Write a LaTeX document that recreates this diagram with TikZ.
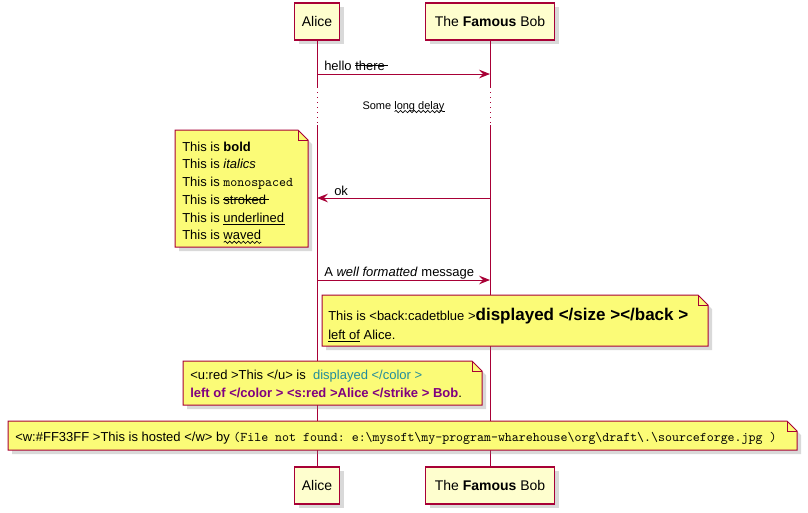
\documentclass[tikz,border=0pt]{standalone}
\usepackage{fontspec}
\setmainfont{Liberation Sans}
\setmonofont{Latin Modern Mono}[Scale=1.02]
\usepackage{tikz}
\usetikzlibrary{positioning,arrows.meta,shadows,decorations.pathmorphing}

\definecolor{umlred}{HTML}{A80036}
\definecolor{partfill}{HTML}{FEFECE}
\definecolor{notefill}{HTML}{FBFB77}
\definecolor{tealtext}{RGB}{35,140,155}
\definecolor{purpletext}{HTML}{800080}

% text marks: stroke, underline, wave
\newsavebox{\markbox}
\newlength{\marklen}
\newcommand{\strk}[1]{\sbox{\markbox}{#1}\rlap{\rule[0.32em]{\wd\markbox}{0.5pt}}\usebox{\markbox}}
\newcommand{\undl}[1]{\sbox{\markbox}{#1}\rlap{\rule[-0.2em]{\wd\markbox}{0.5pt}}\usebox{\markbox}}
\newcommand{\wavy}[1]{\sbox{\markbox}{#1}\setlength{\marklen}{\wd\markbox}%
  \rlap{\tikz[baseline=0pt]\draw[line width=0.5pt, decorate,
    decoration={snake, amplitude=0.85pt, segment length=3.4pt}] (0pt,-1.9pt) -- (\marklen,-1.9pt);}%
  \usebox{\markbox}}

\tikzset{
  part/.style={draw=umlred, fill=partfill, line width=1.1pt, inner sep=0pt,
    minimum height=27.75pt, font=\fontsize{10.5}{12}\selectfont,
    drop shadow={shadow xshift=3pt, shadow yshift=-3pt, opacity=.3}},
  life/.style={draw=umlred, line width=0.75pt},
  delay/.style={life, dash pattern=on 0.75pt off 3pt},
  msg/.style={draw=umlred, line width=0.75pt,
    -{Stealth[length=8.25pt,width=6.5pt,inset=3pt]}},
  msgtext/.style={inner sep=0pt, anchor=base west, font=\fontsize{9.75}{12}\selectfont},
  note/.style={draw=umlred, fill=notefill, line width=0.75pt,
    drop shadow={shadow xshift=3pt, shadow yshift=-3pt, opacity=.3}},
  notefold/.style={draw=umlred, line width=0.75pt},
  notetext/.style={msgtext}
}

% note with folded corner: x1 y1 x2 y2
\newcommand{\umlnote}[4]{%
  \filldraw[note] (#1,#2) -- (#3-10,#2) -- (#3,#2+10) -- (#3,#4) -- (#1,#4) -- cycle;
  \draw[notefold] (#3-10,#2) -- (#3-10,#2+10) -- (#3,#2+10);}

\begin{document}
\begin{tikzpicture}[x=0.75pt, y=-0.75pt]
\useasboundingbox (0,0) rectangle (808,512);

% participants
\node[part, minimum width=33.75pt] (alice) at (317,21.5) {Alice};
\node[part, minimum width=96.75pt] (bob) at (490,21.5) {The \textbf{Famous} Bob};
\node[part, minimum width=33.75pt] (alicefoot) at (317,485.5) {Alice};
\node[part, minimum width=96.75pt] (bobfoot) at (490,485.5) {The \textbf{Famous} Bob};

% lifelines
\coordinate (ad1) at (317,87);
\coordinate (ad2) at (317,125);
\coordinate (bd1) at (490,87);
\coordinate (bd2) at (490,125);
\draw[life] (alice.south) -- (ad1);
\draw[delay] (ad1) -- (ad2);
\draw[life] (ad2) -- (alicefoot.north);
\draw[life] (bob.south) -- (bd1);
\draw[delay] (bd1) -- (bd2);
\draw[life] (bd2) -- (bobfoot.north);

% messages
\coordinate (m1a) at (317,74);
\coordinate (m1b) at (490,74);
\draw[msg] (m1a) -- (m1b);
\node[msgtext] (hello) at (324,70) {hello \strk{there\kern2pt}};

\node[inner sep=0pt, anchor=base, font=\fontsize{8.25}{10}\selectfont] (wait) at (403.5,109) {Some \wavy{long delay}};

\coordinate (m2a) at (490,198);
\coordinate (m2b) at (317,198);
\draw[msg] (m2a) -- (m2b);
\node[msgtext] (ok) at (334,195) {ok};

\coordinate (m3a) at (317,280);
\coordinate (m3b) at (490,280);
\draw[msg] (m3a) -- (m3b);
\node[msgtext] (well) at (324,276) {A \textit{well formatted} message};

% note left of Alice
\umlnote{175}{130}{308}{247}
\foreach \txt [count=\i from 0] in {{This is \textbf{bold}}, {This is \textit{italics}},
    {This is \texttt{monospaced}}, {This is \strk{stroked\kern2pt}},
    {This is \undl{underlined\kern1pt}}, {This is \wavy{waved}}}
  \node[notetext] (left\i) at (182,151+17.75*\i) {\txt};

% note right of Alice
\umlnote{322}{295}{708}{346}
\node[notetext] (right0) at (328,320.5) {This is {<}back:cadetblue {>}\textbf{\fontsize{12.75}{14}\selectfont displayed {<}/size {>}{<}/back {>}}};
\node[notetext] (right1) at (328,339) {\undl{left of} Alice.};

% note over Alice
\umlnote{183}{361}{482}{405}
\node[notetext] (over0) at (190,379) {{<}u:red {>}This {<}/u{>} is \ \textcolor{tealtext}{displayed {<}/color {>}}};
\node[notetext] (over1) at (190,397.5) {\textcolor{purpletext}{\textbf{left of {<}/color {>} {<}s:red {>}Alice {<}/strike {>} Bob}}.};

% note over both
\umlnote{8}{421}{797}{450}
\node[notetext] (hosted) at (15,441.5) {{<}w:\#FF33FF {>}This is hosted {<}/w{>} by \texttt{(File not found: e:\textbackslash mysoft\textbackslash my-program-wharehouse\textbackslash org\textbackslash draft\textbackslash .\textbackslash sourceforge.jpg )}};
\end{tikzpicture}
\end{document}
